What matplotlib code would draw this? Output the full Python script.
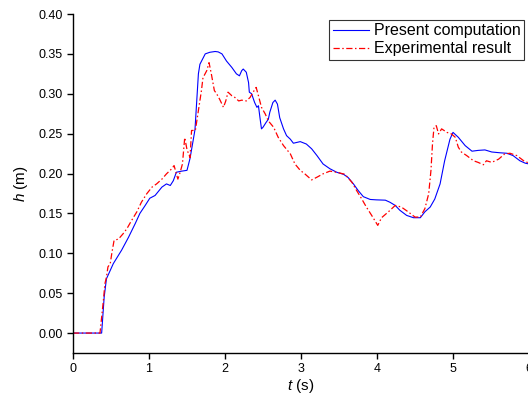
import matplotlib
matplotlib.use("Agg")
import matplotlib.pyplot as plt

plt.rcParams['font.family'] = ['Liberation Sans', 'DejaVu Sans']
plt.rcParams['mathtext.fontset'] = 'custom'
plt.rcParams['mathtext.rm'] = 'Liberation Sans'
plt.rcParams['mathtext.it'] = 'Liberation Sans:italic'

# Present computation (blue)
t_comp = [0.0, 0.377, 0.41, 0.44, 0.53, 0.64, 0.73, 0.82, 0.88, 0.95, 1.01, 1.08, 1.17, 1.23, 1.28,
          1.32, 1.36, 1.43, 1.50, 1.54, 1.58, 1.605, 1.65, 1.67, 1.74, 1.80, 1.87, 1.91, 1.96, 2.02,
          2.09, 2.15, 2.19, 2.22, 2.24, 2.28, 2.31, 2.32, 2.35, 2.39, 2.42, 2.44, 2.46, 2.48, 2.50,
          2.54, 2.57, 2.59, 2.63, 2.66, 2.69, 2.72, 2.77, 2.81, 2.86, 2.90, 2.99, 3.07, 3.14, 3.21,
          3.29, 3.38, 3.47, 3.56, 3.62, 3.69, 3.75, 3.82, 3.91, 3.99, 4.11, 4.17, 4.24, 4.30, 4.39,
          4.48, 4.54, 4.57, 4.63, 4.70, 4.76, 4.83, 4.89, 4.96, 5.00, 5.07, 5.16, 5.25, 5.33, 5.42,
          5.51, 5.62, 5.71, 5.79, 5.88, 5.95, 6.0]
h_comp = [0.0, 0.0, 0.045, 0.068, 0.087, 0.104, 0.120, 0.1375, 0.150, 0.160, 0.169, 0.1725, 0.183, 0.187, 0.185,
          0.191, 0.2016, 0.203, 0.204, 0.219, 0.241, 0.255, 0.325, 0.337, 0.350, 0.352, 0.353, 0.3525, 0.350, 0.341,
          0.333, 0.325, 0.3225, 0.329, 0.331, 0.327, 0.314, 0.302, 0.300, 0.289, 0.283, 0.285, 0.270, 0.256, 0.258,
          0.264, 0.268, 0.277, 0.289, 0.292, 0.287, 0.270, 0.256, 0.2475, 0.243, 0.238, 0.240, 0.237, 0.231, 0.2225,
          0.212, 0.206, 0.2016, 0.199, 0.195, 0.187, 0.179, 0.171, 0.1675, 0.167, 0.1666, 0.164, 0.160, 0.154, 0.1475,
          0.1446, 0.1446, 0.1446, 0.152, 0.158, 0.168, 0.187, 0.216, 0.243, 0.2516, 0.2454, 0.235, 0.228, 0.229, 0.2296,
          0.227, 0.226, 0.2254, 0.2225, 0.216, 0.213, 0.212]

# Experimental result (red)
t_exp = [0.0, 0.355, 0.377, 0.40, 0.42, 0.44, 0.46, 0.49, 0.51, 0.54, 0.60, 0.66, 0.71, 0.77, 0.84,
         0.90, 0.97, 1.04, 1.10, 1.17, 1.23, 1.30, 1.33, 1.36, 1.38, 1.41, 1.44, 1.47, 1.50, 1.54,
         1.56, 1.61, 1.65, 1.69, 1.71, 1.76, 1.79, 1.82, 1.86, 1.89, 1.93, 1.98, 2.01, 2.04, 2.09,
         2.13, 2.18, 2.22, 2.28, 2.33, 2.37, 2.41, 2.44, 2.48, 2.53, 2.57, 2.64, 2.70, 2.77, 2.86,
         2.92, 2.99, 3.05, 3.14, 3.21, 3.29, 3.38, 3.47, 3.58, 3.67, 3.73, 3.80, 3.86, 3.93, 4.01,
         4.06, 4.15, 4.24, 4.32, 4.41, 4.50, 4.57, 4.63, 4.68, 4.71, 4.73, 4.75, 4.78, 4.81, 4.85,
         4.92, 4.98, 5.03, 5.07, 5.11, 5.18, 5.27, 5.33, 5.40, 5.44, 5.51, 5.60, 5.68, 5.75, 5.84,
         5.93, 6.0]
h_exp = [0.0, 0.0, 0.02, 0.041, 0.062, 0.070, 0.083, 0.087, 0.0996, 0.116, 0.118, 0.1246, 0.131, 0.141, 0.152,
         0.164, 0.1746, 0.183, 0.187, 0.193, 0.1996, 0.206, 0.210, 0.1996, 0.193, 0.2016, 0.212, 0.245, 0.230, 0.220,
         0.254, 0.254, 0.279, 0.304, 0.320, 0.329, 0.339, 0.325, 0.304, 0.300, 0.293, 0.283, 0.291, 0.302, 0.2975,
         0.2954, 0.291, 0.292, 0.291, 0.2954, 0.302, 0.308, 0.2975, 0.283, 0.2746, 0.266, 0.258, 0.2454, 0.235, 0.2246,
         0.212, 0.204, 0.1996, 0.192, 0.1954, 0.1996, 0.203, 0.2016, 0.199, 0.189, 0.179, 0.168, 0.158, 0.1475, 0.135,
         0.1446, 0.152, 0.160, 0.158, 0.152, 0.1454, 0.1454, 0.156, 0.1746, 0.204, 0.237, 0.258, 0.260, 0.2496, 0.256,
         0.2516, 0.2496, 0.2454, 0.233, 0.227, 0.2225, 0.216, 0.214, 0.211, 0.216, 0.214, 0.218, 0.2246, 0.2254, 0.2225,
         0.216, 0.213]

x_ticks = [0, 1, 2, 3, 4, 5, 6]
y_ticks = [0.00, 0.05, 0.10, 0.15, 0.20, 0.25, 0.30, 0.35, 0.40]

fig = plt.figure(figsize=(5.28, 3.99), dpi=100)
ax = fig.add_axes([73/528, 1-353/399, 456/528, 339/399])

ax.plot(t_comp, h_comp, color='#0000ff', lw=0.8, label='Present computation')
ax.plot(t_exp, h_exp, color='#ff0000', lw=0.9, linestyle=(0, (5, 2, 1.2, 2)), label='Experimental result')

ax.set_xlim(0, 6)
ax.set_ylim(-0.025, 0.40)
ax.set_xticks(x_ticks)
ax.set_xticklabels([str(v) for v in x_ticks])
ax.set_yticks(y_ticks)
ax.set_yticklabels([f"{v:.2f}" for v in y_ticks])

for s in ['top', 'right']:
    ax.spines[s].set_visible(False)
for s in ['left', 'bottom']:
    ax.spines[s].set_linewidth(1.0)
ax.tick_params(direction='out', length=4.5, width=1.0, labelsize=9, pad=3)

ax.set_xlabel('$t$ (s)', fontsize=11, labelpad=1)
ax.set_ylabel('$h$ (m)', fontsize=11, labelpad=6)

leg = ax.legend(loc='upper right', bbox_to_anchor=(524/528, 1-20/399), bbox_transform=fig.transFigure,
                fontsize=11.5, frameon=True, fancybox=False, borderaxespad=0, borderpad=0.2,
                labelspacing=0.2, handlelength=2.3, handletextpad=0.3)
leg.get_frame().set_edgecolor('black')
leg.get_frame().set_linewidth(0.8)

fig.savefig('out.png', dpi=100)
